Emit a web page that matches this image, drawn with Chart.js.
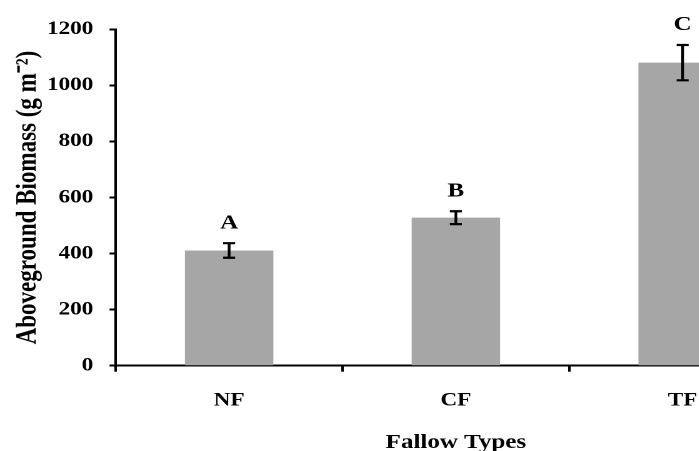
<!DOCTYPE html>
<html>
<head>
<meta charset="utf-8">
<script src="https://cdn.jsdelivr.net/npm/chart.js@4"></script>
<style>
  html, body { margin: 0; padding: 0; background: #fff; width: 699px; height: 451px; overflow: hidden; }
  #wrap { position: absolute; left: 0; top: 0; width: 660px; height: 451px; transform: scaleX(1.25); transform-origin: 0 0; }
</style>
</head>
<body>
<div id="wrap"><canvas id="c" width="660" height="451"></canvas></div>
<script>
// Data
const categories = ['NF', 'CF', 'TF'];
const biomass = [411, 528, 1081];
const errors = [26, 23, 63];
const letters = ['A', 'B', 'C'];
const yTicks = [0, 200, 400, 600, 800, 1000, 1200];

const FONT = "'Liberation Serif', 'Times New Roman', serif";

const errorBarPlugin = {
  id: 'errorBars',
  afterDatasetsDraw(chart) {
    const ctx = chart.ctx;
    const xs = chart.scales.x, ys = chart.scales.y;
    ctx.save();
    ctx.strokeStyle = '#000';
    ctx.lineWidth = 2.2;
    ctx.lineCap = 'butt';
    biomass.forEach((v, i) => {
      const x = xs.getPixelForValue(i);
      const yt = ys.getPixelForValue(v + errors[i]);
      const yb = ys.getPixelForValue(v - errors[i]);
      const hw = 4.8;
      ctx.beginPath();
      ctx.moveTo(x, yt); ctx.lineTo(x, yb);
      ctx.moveTo(x - hw, yt); ctx.lineTo(x + hw, yt);
      ctx.moveTo(x - hw, yb); ctx.lineTo(x + hw, yb);
      ctx.stroke();
      ctx.fillStyle = '#000';
      ctx.font = 'bold 20px ' + FONT;
      ctx.textAlign = 'center';
      ctx.textBaseline = 'middle';
      ctx.fillText(letters[i], x, yt - 20);
    });
    ctx.restore();
  }
};

new Chart(document.getElementById('c'), {
  type: 'bar',
  data: {
    labels: categories,
    datasets: [{
      data: biomass,
      backgroundColor: '#a6a6a6',
      borderWidth: 0,
      barPercentage: 0.39,
      categoryPercentage: 1.0
    }]
  },
  options: {
    responsive: false,
    animation: false,
    devicePixelRatio: 2,
    layout: { padding: { top: 29.3, right: 23.2, bottom: 0, left: 0 } },
    plugins: { legend: { display: false }, tooltip: { enabled: false } },
    scales: {
      x: {
        grid: { display: true, drawOnChartArea: false, drawTicks: true, tickLength: 6, tickColor: '#000', tickWidth: 2, offset: true },
        border: { display: true, color: '#000', width: 2 },
        ticks: { color: '#000', font: { family: FONT, size: 18.5, weight: 'bold' }, padding: 18 },
        title: { display: true, text: 'Fallow Types', color: '#000', font: { family: FONT, size: 20, weight: 'bold' }, padding: { top: 0, bottom: -4 } },
        afterFit(scale) { scale.height = 85.3; }
      },
      y: {
        min: 0, max: 1200,
        afterBuildTicks(scale) { scale.ticks = yTicks.map(v => ({ value: v })); },
        grid: { display: true, drawOnChartArea: false, drawTicks: true, tickLength: 5, tickColor: '#000', tickWidth: 2 },
        border: { display: true, color: '#000', width: 2 },
        ticks: { color: '#000', font: { family: FONT, size: 18.5, weight: 'bold' }, padding: 13, callback: (v) => String(v) },
        title: { display: true, text: 'Aboveground Biomass (g m\u207B\u00B2)', color: '#000', font: { family: FONT, size: 23, weight: 'bold' }, padding: { top: 9, bottom: 0 } },
        afterFit(scale) { scale.width = 92.6; }
      }
    }
  },
  plugins: [errorBarPlugin]
});
</script>
</body>
</html>
